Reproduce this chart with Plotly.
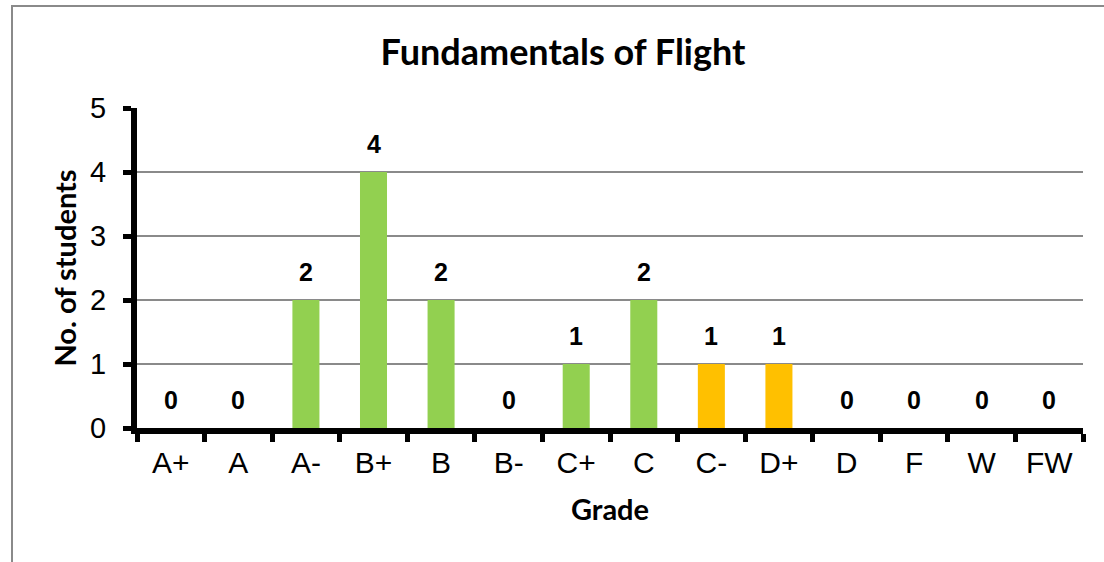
import plotly.graph_objects as go

grades = ["A+", "A", "A-", "B+", "B", "B-", "C+", "C", "C-", "D+", "D", "F", "W", "FW"]
students = [0, 0, 2, 4, 2, 0, 1, 2, 1, 1, 0, 0, 0, 0]
bar_colors = ["#92D050"] * 8 + ["#FFC000"] * 2 + ["#92D050"] * 4

W, H = 1104, 562
L, R, T, B = 137, 21, 108, 134

fig = go.Figure()
fig.add_trace(go.Bar(x=grades, y=students, marker=dict(color=bar_colors, line=dict(width=0)),
                     width=0.4, hoverinfo="x+y"))

for g, v in zip(grades, students):
    fig.add_annotation(x=g, y=v, text=f"<b>{v}</b>", showarrow=False, yshift=28,
                       font=dict(family="Liberation Sans, Arial", size=25, color="black"))

fig.update_layout(
    width=W, height=H, autosize=False,
    margin=dict(l=L, r=R, t=T, b=B, pad=0),
    paper_bgcolor="white", plot_bgcolor="white",
    showlegend=False,
    title=dict(text="<b>Fundamentals of Flight</b>", x=563 / W, xanchor="center",
               xref="container", yref="container", y=1 - 52 / H, yanchor="middle",
               font=dict(family="Lato, Carlito, Calibri", size=36, color="black")),
    xaxis=dict(type="category", range=[-0.5, 13.5], showline=True, linecolor="black", linewidth=6,
               ticks="outside", tickson="boundaries", ticklen=8, tickwidth=5, tickcolor="black",
               tickfont=dict(family="Liberation Sans, Arial", size=30, color="black"),
               ticklabelstandoff=3, showgrid=False, zeroline=False, fixedrange=True,
               title=dict(text="<b>Grade</b>", standoff=24,
                          font=dict(family="Lato, Carlito, Calibri", size=29, color="black"))),
    yaxis=dict(range=[0, 5], dtick=1, showline=True, linecolor="black", linewidth=6,
               ticks="outside", ticklen=8, tickwidth=5, tickcolor="black",
               tickfont=dict(family="Liberation Sans, Arial", size=29, color="black"),
               ticklabelstandoff=11, showgrid=True, gridcolor="#8a8a8a", gridwidth=2,
               zeroline=False, fixedrange=True,
               title=dict(text="<b>No. of students</b>", standoff=7,
                          font=dict(family="Lato, Carlito, Calibri", size=29, color="black"))),
    shapes=[dict(type="rect", xref="paper", yref="paper",
                 x0=(12 - L) / (W - L - R), x1=2.0,
                 y0=-2.0, y1=(H - B - 6) / (H - T - B),
                 line=dict(color="#8a8a8a", width=2), fillcolor="rgba(0,0,0,0)", layer="below")],
)

fig.write_html("out.html", config={"displayModeBar": False},
               post_script="document.body.style.margin='0';document.body.style.padding='0';")
